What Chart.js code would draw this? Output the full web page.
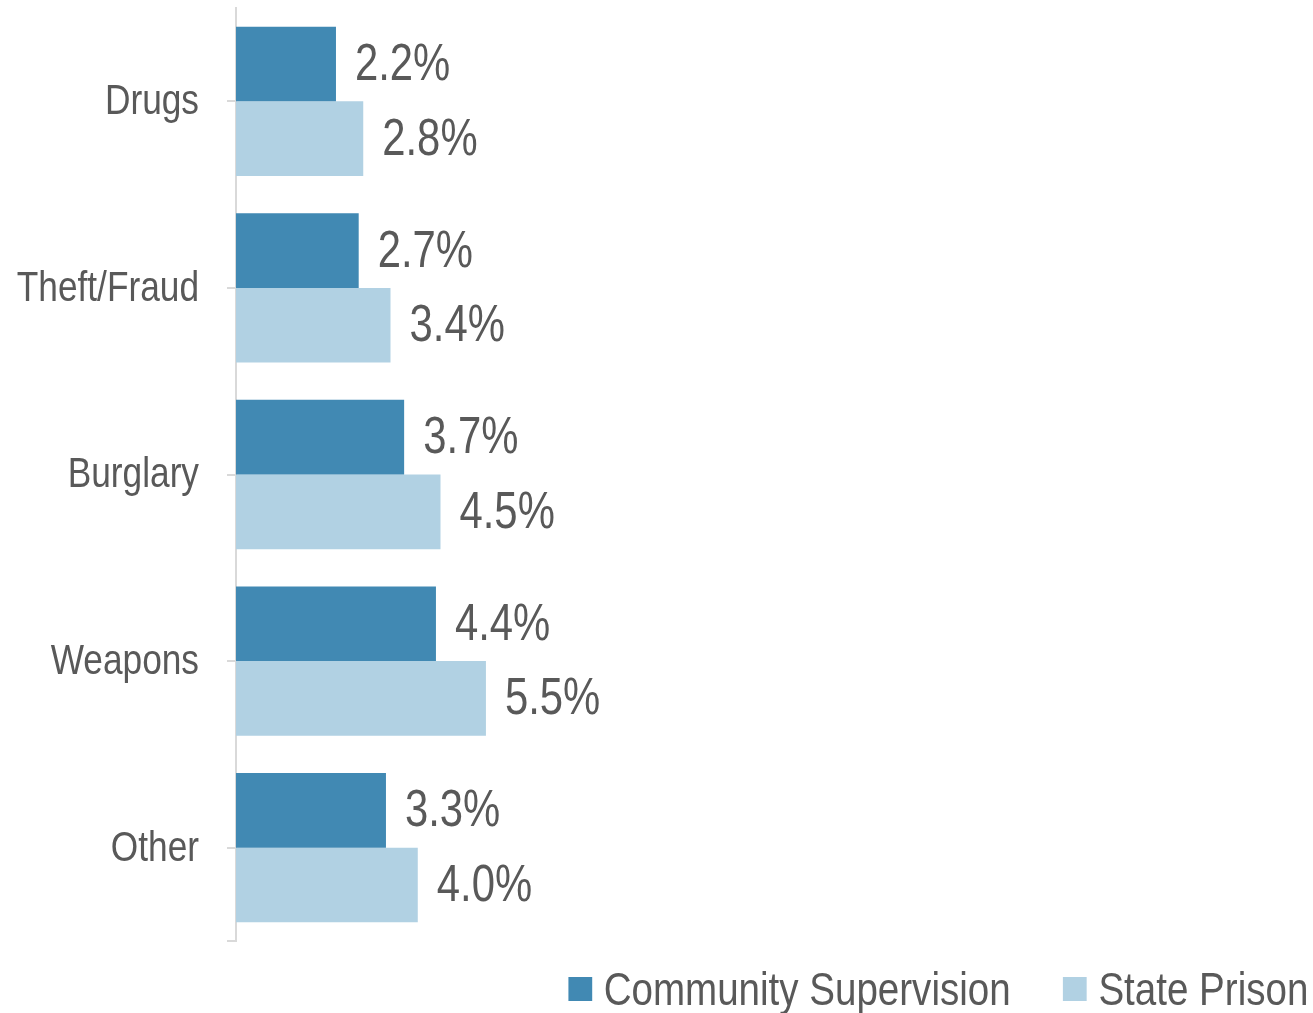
<!DOCTYPE html>
<html>
<head>
<meta charset="utf-8">
<title>Offense categories</title>
<script src="https://cdn.jsdelivr.net/npm/chart.js"></script>
<style>
  html, body { margin: 0; padding: 0; background: #fff; }
  #wrap { position: relative; width: 1313px; height: 1013px; }
  #legend {
    position: absolute; right: 5px; top: 964px;
    display: flex; align-items: center;
    font-family: 'Liberation Sans', Arial, sans-serif;
    font-size: 47px; color: #595959; line-height: 50px;
    transform: scaleX(0.82); transform-origin: right center;
    white-space: nowrap;
  }
  #legend .item { display: flex; align-items: center; margin-left: 64px; }
  #legend .item:first-child { margin-left: 0; }
  #legend .swatch { width: 29px; height: 24px; margin-right: 14px; }
</style>
</head>
<body>
<div id="wrap">
  <canvas id="chart" width="1313" height="1013"></canvas>
  <div id="legend"></div>
</div>
<script>
const categories = ['Drugs', 'Theft/Fraud', 'Burglary', 'Weapons', 'Other'];
const communitySupervision = [2.2, 2.7, 3.7, 4.4, 3.3];
const statePrison = [2.8, 3.4, 4.5, 5.5, 4.0];
const seriesNames = ['Community Supervision', 'State Prison'];
const seriesColors = ['#4189b3', '#b1d1e3'];

const FONT = "'Liberation Sans', Arial, sans-serif";
const NARROW = 0.82; // squeeze text to a narrow face
const TEXT = '#595959';
const AXIS = '#d9d9d9';

function narrowText(ctx, text, x, y, size, align) {
    ctx.save();
    ctx.font = size + 'px ' + FONT;
    ctx.fillStyle = TEXT;
    ctx.textAlign = align;
    ctx.textBaseline = 'middle';
    ctx.translate(x, y);
    ctx.scale(NARROW, 1);
    ctx.fillText(text, 0, 0);
    ctx.restore();
}

// category names to the left of the axis, one per tick
const categoryLabels = {
    id: 'categoryLabels',
    afterDraw(chart) {
        const scale = chart.scales.y;
        scale.ticks.forEach((tick, i) => {
            narrowText(chart.ctx, chart.data.labels[i], scale.right - 37, scale.getPixelForTick(i) + 1, 43, 'right');
        });
    }
};

// percentage labels just past the end of each bar
const barValueLabels = {
    id: 'barValueLabels',
    afterDatasetsDraw(chart) {
        chart.data.datasets.forEach((ds, i) => {
            chart.getDatasetMeta(i).data.forEach((bar, j) => {
                narrowText(chart.ctx, ds.data[j].toFixed(1) + '%', bar.x + 19, bar.y + 2, 51, 'left');
            });
        });
    }
};

// short tick closing off the bottom of the category axis
const axisEndTick = {
    id: 'axisEndTick',
    afterDraw(chart) {
        const { ctx, chartArea } = chart;
        ctx.save();
        ctx.strokeStyle = AXIS;
        ctx.lineWidth = 2;
        ctx.beginPath();
        ctx.moveTo(chartArea.left - 9, chartArea.bottom);
        ctx.lineTo(chartArea.left, chartArea.bottom);
        ctx.stroke();
        ctx.restore();
    }
};

new Chart(document.getElementById('chart'), {
    type: 'bar',
    data: {
        labels: categories,
        datasets: [
            {
                label: seriesNames[0],
                data: communitySupervision,
                backgroundColor: seriesColors[0],
                categoryPercentage: 0.8,
                barPercentage: 1.0
            },
            {
                label: seriesNames[1],
                data: statePrison,
                backgroundColor: seriesColors[1],
                categoryPercentage: 0.8,
                barPercentage: 1.0
            }
        ]
    },
    options: {
        indexAxis: 'y',
        responsive: false,
        animation: false,
        layout: { padding: { top: 8, bottom: 72, left: 0, right: 0 } },
        plugins: {
            legend: { display: false },
            tooltip: { enabled: false }
        },
        scales: {
            x: { display: false, min: 0, max: 23.7 },
            y: {
                grid: {
                    drawOnChartArea: false,
                    offset: false,
                    tickLength: 9,
                    color: AXIS,
                    lineWidth: 2
                },
                border: { color: AXIS, width: 2 },
                ticks: { display: false },
                afterFit(scale) {
                    scale.width = 236;
                    scale.paddingTop = 0;
                    scale.paddingBottom = 0;
                }
            }
        }
    },
    plugins: [barValueLabels, categoryLabels, axisEndTick]
});

// legend below the plot, right aligned
const legend = document.getElementById('legend');
seriesNames.forEach((name, i) => {
    const item = document.createElement('div');
    item.className = 'item';
    item.innerHTML = '<span class="swatch" style="background:' + seriesColors[i] + '"></span><span>' + name + '</span>';
    legend.appendChild(item);
});
</script>
</body>
</html>
